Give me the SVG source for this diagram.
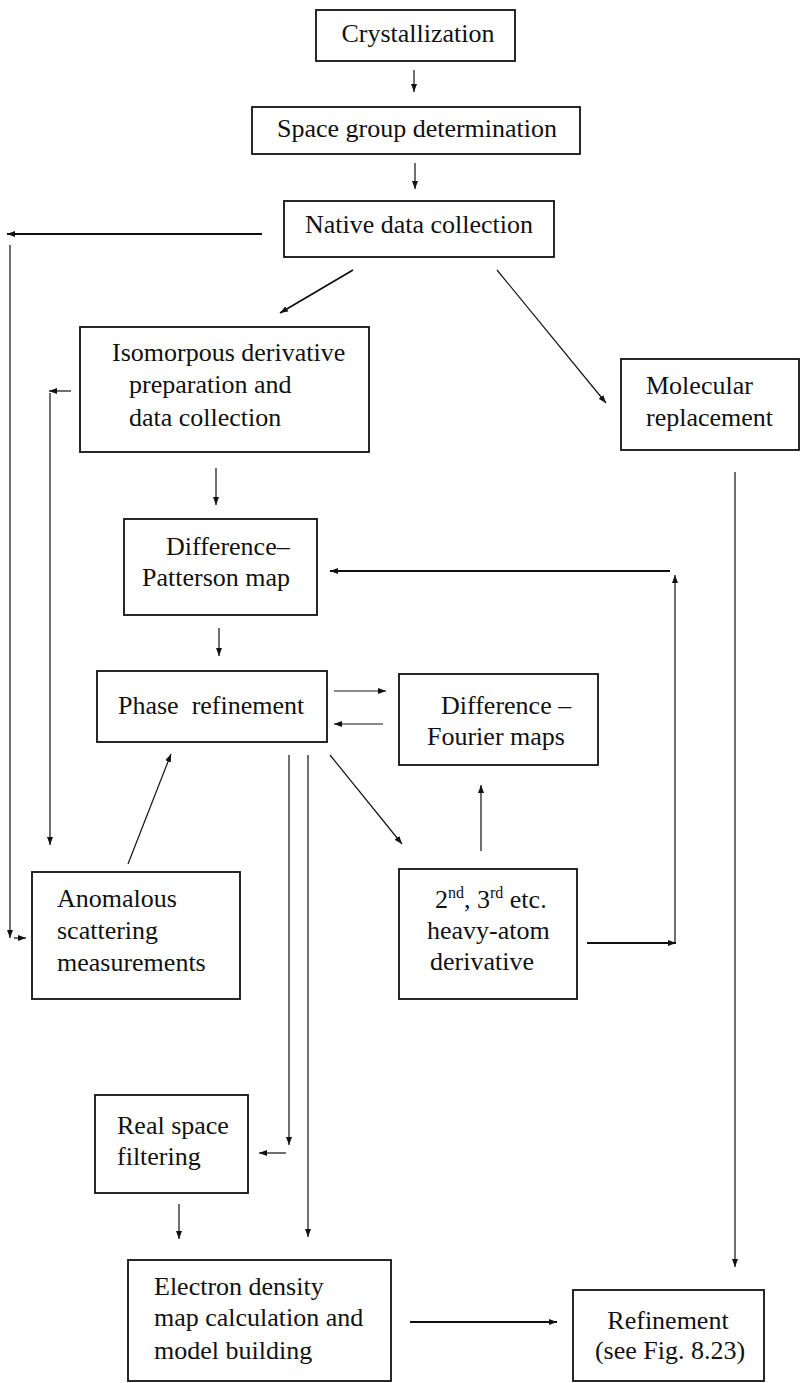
<svg xmlns="http://www.w3.org/2000/svg" width="807" height="1383" viewBox="0 0 807 1383">
<style>
.box{fill:#fff;stroke:#111;stroke-width:1.8}
.t{font-family:"Liberation Serif","Times New Roman",serif;font-size:26px;fill:#111}
.c{stroke:#111;stroke-width:1.2;fill:none}
.ck{stroke:#111;stroke-width:1.8;fill:none}
</style>
<defs>
<marker id="ah" markerUnits="userSpaceOnUse" markerWidth="9" markerHeight="7" refX="8" refY="3.5" orient="auto">
<path d="M0,0.5 L8,3.5 L0,6.5 z" fill="#111"/>
</marker>
</defs>
<rect width="807" height="1383" fill="#fff"/>
<g id="connectors">
<line class="c" x1="414" y1="70" x2="414" y2="92" marker-end="url(#ah)"/>
<line class="c" x1="415" y1="163" x2="415" y2="189" marker-end="url(#ah)"/>
<line class="ck" x1="262" y1="234" x2="7" y2="234" marker-end="url(#ah)"/>
<line class="c" x1="10" y1="245" x2="10" y2="938" marker-end="url(#ah)"/>
<line class="c" x1="14" y1="938" x2="26" y2="938" marker-end="url(#ah)"/>
<line class="ck" x1="353" y1="270" x2="280" y2="313" marker-end="url(#ah)"/>
<line class="c" x1="497" y1="270" x2="606" y2="403" marker-end="url(#ah)"/>
<line class="c" x1="71" y1="391" x2="49" y2="391" marker-end="url(#ah)"/>
<line class="c" x1="50" y1="393" x2="50" y2="845" marker-end="url(#ah)"/>
<line class="c" x1="216" y1="468" x2="216" y2="505" marker-end="url(#ah)"/>
<line class="ck" x1="670" y1="571" x2="330" y2="571" marker-end="url(#ah)"/>
<line class="c" x1="675" y1="943" x2="675" y2="575" marker-end="url(#ah)"/>
<line class="ck" x1="587" y1="943" x2="676" y2="943" marker-end="url(#ah)"/>
<line class="c" x1="219" y1="628" x2="219" y2="656" marker-end="url(#ah)"/>
<line class="c" x1="334" y1="691" x2="386" y2="691" marker-end="url(#ah)"/>
<line class="c" x1="383" y1="724" x2="334" y2="724" marker-end="url(#ah)"/>
<line class="c" x1="481" y1="851" x2="481" y2="785" marker-end="url(#ah)"/>
<line class="c" x1="128" y1="864" x2="171" y2="754" marker-end="url(#ah)"/>
<line class="c" x1="330" y1="755" x2="402" y2="844" marker-end="url(#ah)"/>
<line class="c" x1="289" y1="755" x2="289" y2="1145" marker-end="url(#ah)"/>
<line class="c" x1="286" y1="1153" x2="259" y2="1153" marker-end="url(#ah)"/>
<line class="c" x1="308" y1="755" x2="308" y2="1237" marker-end="url(#ah)"/>
<line class="c" x1="735" y1="472" x2="735" y2="1267" marker-end="url(#ah)"/>
<line class="c" x1="179" y1="1204" x2="179" y2="1239" marker-end="url(#ah)"/>
<line class="ck" x1="410" y1="1322" x2="557" y2="1322" marker-end="url(#ah)"/>
</g>
<g id="crystallization">
<rect class="box" x="316" y="10" width="199" height="51"/>
<text class="t" x="418" y="42" text-anchor="middle">Crystallization</text>
</g>
<g id="space-group">
<rect class="box" x="252" y="107" width="328" height="47"/>
<text class="t" x="417" y="137" text-anchor="middle">Space group determination</text>
</g>
<g id="native">
<rect class="box" x="284" y="201" width="270" height="56"/>
<text class="t" x="419" y="233" text-anchor="middle">Native data collection</text>
</g>
<g id="isomorphous">
<rect class="box" x="80" y="327" width="289" height="125"/>
<text class="t" x="112" y="361">Isomorpous derivative</text>
<text class="t" x="129" y="393">preparation and</text>
<text class="t" x="129" y="426">data collection</text>
</g>
<g id="molecular">
<rect class="box" x="621" y="359" width="178" height="91"/>
<text class="t" x="646" y="394">Molecular</text>
<text class="t" x="646" y="426">replacement</text>
</g>
<g id="diff-patterson">
<rect class="box" x="124" y="519" width="193" height="96"/>
<text class="t" x="166" y="555">Difference–</text>
<text class="t" x="142" y="586">Patterson map</text>
</g>
<g id="phase">
<rect class="box" x="97" y="671" width="230" height="71"/>
<text class="t" x="118" y="714" xml:space="preserve">Phase  refinement</text>
</g>
<g id="diff-fourier">
<rect class="box" x="399" y="674" width="199" height="91"/>
<text class="t" x="441" y="714">Difference –</text>
<text class="t" x="427" y="745">Fourier maps</text>
</g>
<g id="anomalous">
<rect class="box" x="32" y="872" width="208" height="127"/>
<text class="t" x="57" y="907">Anomalous</text>
<text class="t" x="57" y="939">scattering</text>
<text class="t" x="57" y="971">measurements</text>
</g>
<g id="heavy-atom">
<rect class="box" x="399" y="869" width="178" height="130"/>
<text class="t" x="435" y="908">2<tspan dy="-10" font-size="16">nd</tspan><tspan dy="10">, 3</tspan><tspan dy="-10" font-size="16">rd</tspan><tspan dy="10"> etc.</tspan></text>
<text class="t" x="427" y="939">heavy-atom</text>
<text class="t" x="430" y="970">derivative</text>
</g>
<g id="real-space">
<rect class="box" x="95" y="1095" width="153" height="98"/>
<text class="t" x="117" y="1134">Real space</text>
<text class="t" x="117" y="1165">filtering</text>
</g>
<g id="electron-density">
<rect class="box" x="128" y="1260" width="263" height="121"/>
<text class="t" x="154" y="1295">Electron density</text>
<text class="t" x="154" y="1326">map calculation and</text>
<text class="t" x="154" y="1359">model building</text>
</g>
<g id="refinement">
<rect class="box" x="573" y="1290" width="191" height="91"/>
<text class="t" x="668" y="1329" text-anchor="middle">Refinement</text>
<text class="t" x="670" y="1359" text-anchor="middle">(see Fig. 8.23)</text>
</g>
</svg>
